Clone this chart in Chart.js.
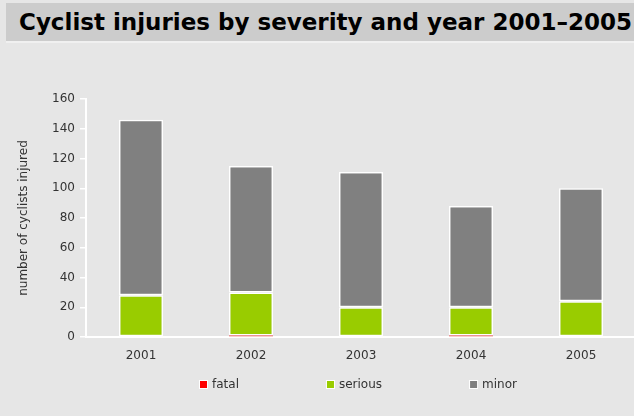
<!DOCTYPE html>
<html>
<head>
<meta charset="utf-8">
<script src="https://cdn.jsdelivr.net/npm/chart.js@4/dist/chart.umd.min.js"></script>
<style>
  html, body { margin: 0; padding: 0; background: #e6e6e6; overflow: hidden; width: 634px; height: 416px; }
  #wrap { position: relative; width: 634px; height: 416px; }
  #title {
    position: absolute; left: 6px; top: 3px; width: 628px; height: 40px;
    background: #cccccc; border-bottom: 2px solid #f0f0f0; box-sizing: border-box;
    font-family: "DejaVu Sans", Verdana, sans-serif; font-weight: bold; font-size: 23px; color: #000;
    line-height: 39px; padding-left: 13px; white-space: nowrap; overflow: hidden;
  }
  canvas { position: absolute; left: 0; top: 0; }
</style>
</head>
<body>
<div id="wrap">
  <canvas id="chart" width="636" height="416"></canvas>
  <div id="title">Cyclist injuries by severity and year 2001–2005</div>
</div>
<script>
const years = ["2001", "2002", "2003", "2004", "2005"];
const fatal = [0, 1, 0, 1, 0];
const serious = [28, 29, 20, 19, 24];
const minor = [118, 85, 91, 68, 76];

const FONT = '"DejaVu Sans", Verdana, sans-serif';

// legend row under the axis, items spaced wide apart
const legendRow = {
  id: "legendRow",
  afterDraw(chart) {
    const ctx = chart.ctx;
    ctx.save();
    ctx.font = "12px " + FONT;
    ctx.textBaseline = "middle";
    let x = 199;
    const y = 385;
    chart.data.datasets.forEach((ds) => {
      ctx.fillStyle = "#ffffff";
      ctx.fillRect(x, y - 5, 9, 9);
      ctx.fillStyle = ds.legendColor;
      ctx.fillRect(x + 1, y - 4, 7, 7);
      ctx.fillStyle = "#333333";
      ctx.fillText(ds.label, x + 13, y);
      x += 13 + ctx.measureText(ds.label).width + 87;
    });
    ctx.restore();
  },
};

new Chart(document.getElementById("chart"), {
  type: "bar",
  plugins: [legendRow],
  data: {
    labels: years,
    datasets: [
      { label: "fatal", data: fatal, backgroundColor: "#e83c3c", legendColor: "#ff0000", borderWidth: 0 },
      { label: "serious", data: serious, backgroundColor: "#99cc00", legendColor: "#99cc00" },
      { label: "minor", data: minor, backgroundColor: "#808080", legendColor: "#808080" },
    ],
  },
  options: {
    responsive: false,
    animation: false,
    layout: { padding: { top: 99, bottom: 49, left: 0, right: 0 } },
    datasets: {
      bar: {
        barPercentage: 0.4,
        categoryPercentage: 1.0,
        borderColor: "#ffffff",
        borderWidth: 1.5,
        borderSkipped: false,
      },
    },
    plugins: {
      legend: { display: false },
      tooltip: { enabled: false },
    },
    scales: {
      x: {
        stacked: true,
        grid: { display: false },
        border: { display: true, color: "#ffffff", width: 2 },
        ticks: { color: "#333333", font: { family: FONT, size: 12 }, padding: 4 },
        afterFit: (s) => { s.height = 30; },
      },
      y: {
        stacked: true,
        min: 0,
        max: 160,
        ticks: { stepSize: 20, color: "#333333", font: { family: FONT, size: 12 }, padding: 5 },
        grid: { drawOnChartArea: false, drawTicks: true, tickLength: 6, color: "#ffffff", lineWidth: 1.5 },
        border: { display: true, color: "#ffffff", width: 2 },
        title: {
          display: true,
          text: "number of cyclists injured",
          color: "#333333",
          font: { family: FONT, size: 12 },
          padding: { top: 17, bottom: 0 },
        },
        afterFit: (s) => { s.width = 86; },
      },
    },
  },
});
</script>
</body>
</html>
